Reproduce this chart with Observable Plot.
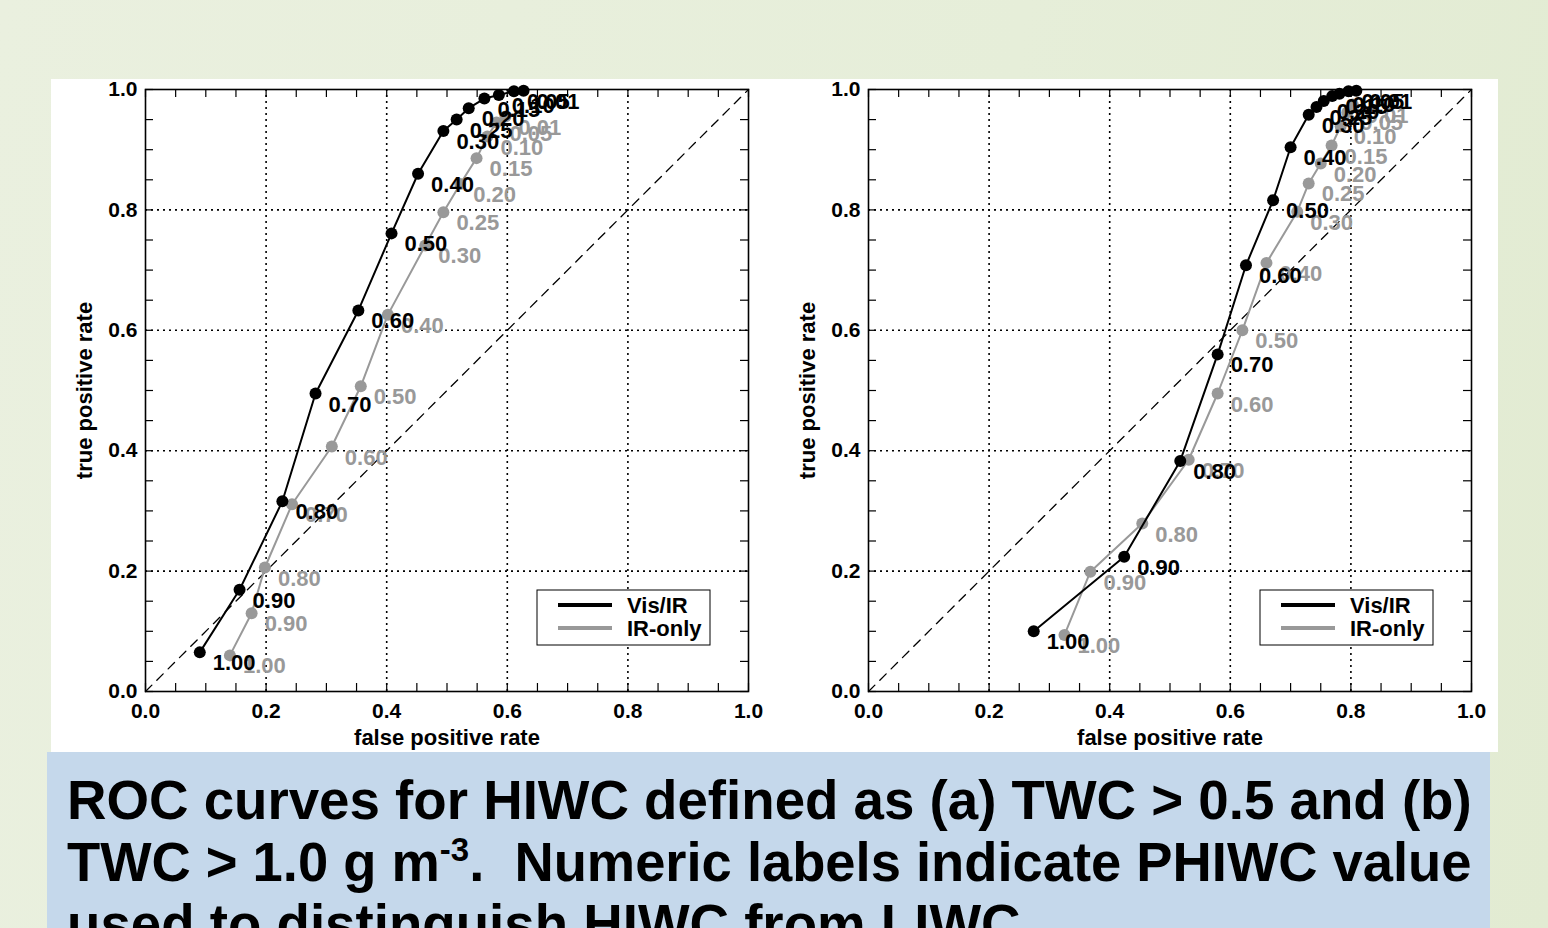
<!DOCTYPE html>
<html>
<head>
<meta charset="utf-8">
<script src="https://cdn.jsdelivr.net/npm/d3@7"></script>
<script src="https://cdn.jsdelivr.net/npm/@observablehq/plot@0.6"></script>
<style>
  html, body { margin: 0; padding: 0; }
  body {
    width: 1548px; height: 928px; overflow: hidden; position: relative;
    background: linear-gradient(100deg, #eaf0df 0%, #e6eed9 60%, #e2ebd2 100%);
  }
  #panel { position: absolute; left: 51px; top: 79px; width: 1447px; height: 673px; background: #fff; }
  .plot { position: absolute; top: 0; }
  #caption { position: absolute; left: 47px; top: 752px; width: 1443px; height: 220px; background: #c5d8eb; overflow: hidden; }
  #caption svg { position: absolute; left: 0; top: 0; }
</style>
</head>
<body>
<div id="panel"></div>
<div id="caption"></div>
<script>
// PHIWC thresholds at which each ROC point was computed
const thresholds = [1.00, 0.90, 0.80, 0.70, 0.60, 0.50, 0.40, 0.30, 0.25, 0.20, 0.15, 0.10, 0.05, 0.01];

// (a) HIWC defined as TWC > 0.5 g m-3
const visA_fpr = [0.090, 0.156, 0.227, 0.282, 0.353, 0.408, 0.452, 0.494, 0.516, 0.536, 0.562, 0.586, 0.611, 0.627];
const visA_tpr = [0.065, 0.169, 0.316, 0.495, 0.633, 0.761, 0.860, 0.931, 0.950, 0.969, 0.985, 0.991, 0.997, 0.998];
const irA_fpr  = [0.140, 0.176, 0.198, 0.243, 0.309, 0.357, 0.402, 0.464, 0.494, 0.522, 0.549, 0.567, 0.582, 0.597];
const irA_tpr  = [0.060, 0.130, 0.206, 0.311, 0.407, 0.507, 0.626, 0.741, 0.796, 0.843, 0.886, 0.922, 0.945, 0.955];

// (b) HIWC defined as TWC > 1.0 g m-3
const visB_fpr = [0.274, 0.424, 0.517, 0.579, 0.626, 0.671, 0.700, 0.730, 0.743, 0.755, 0.769, 0.781, 0.796, 0.809];
const visB_tpr = [0.100, 0.224, 0.383, 0.560, 0.708, 0.816, 0.904, 0.958, 0.971, 0.981, 0.989, 0.993, 0.997, 0.998];
const irB_fpr  = [0.325, 0.368, 0.454, 0.531, 0.579, 0.620, 0.660, 0.711, 0.730, 0.750, 0.768, 0.783, 0.794, 0.803];
const irB_tpr  = [0.094, 0.199, 0.279, 0.385, 0.495, 0.600, 0.712, 0.797, 0.844, 0.877, 0.907, 0.939, 0.962, 0.975];

// axes
const majorTicks = [0, 0.2, 0.4, 0.6, 0.8, 1.0];
const gridTicks = [0.2, 0.4, 0.6, 0.8];
const minorTicks = d3.range(0, 1.0001, 0.05).map(v => +v.toFixed(2));
const diagonal = [0, 1];
const seriesNames = ["Vis/IR", "IR-only"];
const xLabel = "false positive rate";
const yLabel = "true positive rate";

// caption lines: [plain text before superscript, superscript, text after]
const captionLines = [
  ["ROC curves for HIWC defined as (a) TWC > 0.5 and (b)", "", ""],
  ["TWC > 1.0 g m", "-3", ".\u00a0 Numeric labels indicate PHIWC value"],
  ["used to distinguish HIWC from LIWC.", "", ""]
];

const VIS = "#000000";
const IR = "#999999";
const FONT = "'Liberation Sans', Arial, Helvetica, sans-serif";
const fmt = d3.format(".2f");

const W = 740, H = 680, ML = 94, MR = 43, MT = 10, MB = 68;

function rows(fpr, tpr) {
  return thresholds.map((t, i) => ({t, fpr: fpr[i], tpr: tpr[i]}));
}

function seriesMarks(data, color) {
  return [
    Plot.line(data, {x: "fpr", y: "tpr", stroke: color, strokeWidth: 2}),
    Plot.dot(data, {x: "fpr", y: "tpr", r: 6, fill: color}),
    Plot.text(data, {x: "fpr", y: "tpr", text: d => fmt(d.t), dx: 13, dy: 11, textAnchor: "start",
      fill: color, fontSize: 22, fontWeight: "bold", fontFamily: FONT})
  ];
}

function rocPanel(vis, ir) {
  const innerH = H - MT - MB, innerW = W - ML - MR;
  const plot = Plot.plot({
    width: W, height: H,
    marginLeft: ML, marginRight: MR, marginTop: MT, marginBottom: MB,
    x: {domain: [0, 1]},
    y: {domain: [0, 1]},
    style: {background: "transparent", color: "#000", fontFamily: FONT, fontWeight: "bold", fontSize: "21px", overflow: "visible"},
    marks: [
      Plot.gridX(gridTicks, {stroke: "#000", strokeOpacity: 1, strokeWidth: 1.6, strokeDasharray: "2,4"}),
      Plot.gridY(gridTicks, {stroke: "#000", strokeOpacity: 1, strokeWidth: 1.6, strokeDasharray: "2,4"}),
      // inward minor ticks on all four sides
      Plot.ruleX(minorTicks, {x: d => d, insetTop: innerH - 8, strokeWidth: 1.2}),
      Plot.ruleX(minorTicks, {x: d => d, insetBottom: innerH - 8, strokeWidth: 1.2}),
      Plot.ruleY(minorTicks, {y: d => d, insetRight: innerW - 8, strokeWidth: 1.2}),
      Plot.ruleY(minorTicks, {y: d => d, insetLeft: innerW - 8, strokeWidth: 1.2}),
      Plot.line(diagonal, {x: d => d, y: d => d, stroke: "#000", strokeWidth: 1.3, strokeDasharray: "9,7"}),
      Plot.frame({stroke: "#000", strokeWidth: 1.6}),
      Plot.axisX({ticks: majorTicks, tickSize: 0, tickPadding: 12, tickFormat: ".1f", label: null, fontSize: 21}),
      Plot.axisY({ticks: majorTicks, tickSize: 0, tickPadding: 8, tickFormat: ".1f", label: null, fontSize: 21}),
      Plot.text([xLabel], {text: d => d, frameAnchor: "bottom", dy: 46, lineAnchor: "middle", textAnchor: "middle", fontSize: 22, fontWeight: "bold"}),
      Plot.text([yLabel], {text: d => d, frameAnchor: "left", dx: -61, rotate: -90, textAnchor: "middle", lineAnchor: "middle", fontSize: 22, fontWeight: "bold"}),
      ...seriesMarks(ir, IR),
      ...seriesMarks(vis, VIS)
    ]
  });

  // legend box in the lower-right corner of the frame
  const svg = d3.select(plot);
  const right = W - MR, bottom = H - MB;
  const g = svg.append("g").attr("transform", `translate(${right - 211},${bottom - 101})`);
  g.append("rect").attr("width", 173).attr("height", 55).attr("fill", "#fff").attr("stroke", "#000").attr("stroke-width", 1);
  [VIS, IR].forEach((c, i) => {
    const y = 15 + i * 23;
    g.append("line").attr("x1", 21).attr("x2", 75).attr("y1", y).attr("y2", y).attr("stroke", c).attr("stroke-width", 4);
    g.append("text").attr("x", 90).attr("y", y).attr("dy", "0.35em").attr("fill", "#000")
      .attr("text-anchor", "start")
      .attr("font-family", FONT).attr("font-weight", "bold").attr("font-size", 22).text(seriesNames[i]);
  });
  return plot;
}

const panel = document.getElementById("panel");
const pa = rocPanel(rows(visA_fpr, visA_tpr), rows(irA_fpr, irA_tpr));
pa.classList.add("plot"); pa.style.left = "0px";
panel.appendChild(pa);
const pb = rocPanel(rows(visB_fpr, visB_tpr), rows(irB_fpr, irB_tpr));
pb.classList.add("plot"); pb.style.left = (868 - 51 - ML) + "px";
panel.appendChild(pb);

// caption: condensed bold lines, first two stretched to the full text width
const cap = d3.select("#caption").append("svg").attr("width", 1443).attr("height", 220);
const textWidth = 1405;
let baseScale = 1;
captionLines.forEach((parts, i) => {
  const t = cap.append("text")
    .attr("font-family", FONT).attr("font-weight", "bold").attr("font-size", 56).attr("fill", "#000")
    .attr("text-anchor", "start").attr("xml:space", "preserve")
    .style("white-space", "pre");
  t.append("tspan").text(parts[0]);
  if (parts[1]) {
    t.append("tspan").attr("font-size", 34).attr("dy", -20).text(parts[1]);
    t.append("tspan").attr("dy", 20).text(parts[2]);
  }
  const w = t.node().getComputedTextLength();
  const k = i < 2 ? textWidth / w : baseScale;
  if (i === 0) baseScale = k;
  t.attr("transform", `translate(20,${67 + i * 62}) scale(${k},1)`);
});
</script>
</body>
</html>
